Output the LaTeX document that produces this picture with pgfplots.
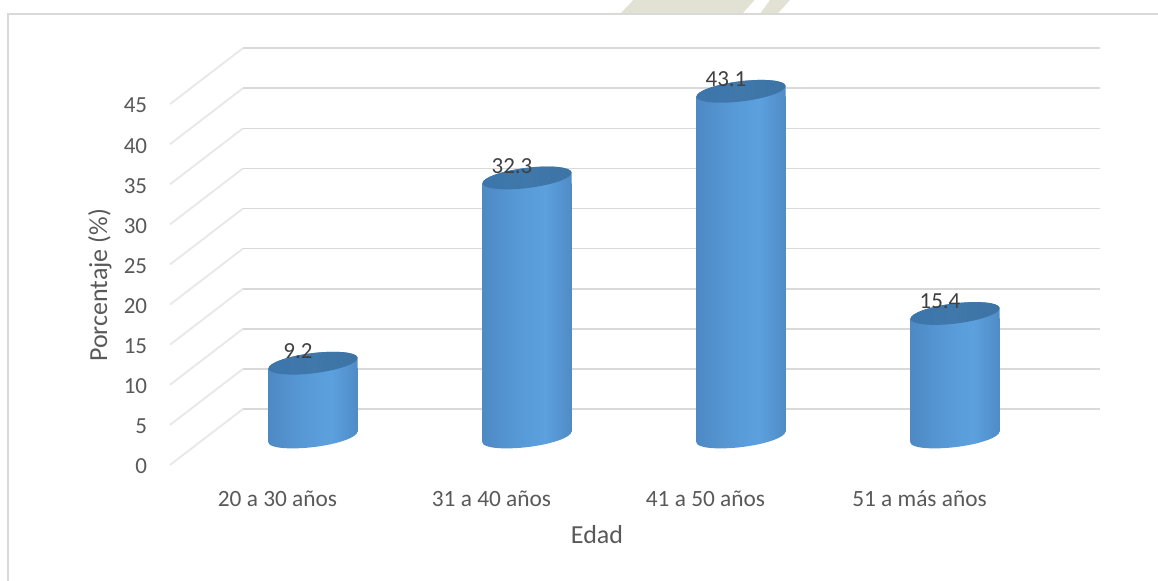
\documentclass[border=0pt]{standalone}
\usepackage{pgfplots}
\usepackage{pgfplotstable}
\usepackage{fontspec}
\pgfplotsset{compat=1.18}
\setmainfont{Carlito}

% Age distribution, percent of respondents
\pgfplotstableread{
pos value
0   9.2
1   32.3
2   43.1
3   15.4
}\edades

% Side wall of the chart box: front edge at each tick, back edge raised by the depth
\pgfplotstableread{
x y
170 0
243 6.98
nan nan
170 5
243 11.98
nan nan
170 10
243 16.98
nan nan
170 15
243 21.98
nan nan
170 20
243 26.98
nan nan
170 25
243 31.98
nan nan
170 30
243 36.98
nan nan
170 35
243 41.98
nan nan
170 40
243 46.98
nan nan
170 45
243 51.98
}\paredlateral

% Back wall gridlines
\pgfplotstableread{
x y
243 6.98
1100 6.98
nan nan
243 11.98
1100 11.98
nan nan
243 16.98
1100 16.98
nan nan
243 21.98
1100 21.98
nan nan
243 26.98
1100 26.98
nan nan
243 31.98
1100 31.98
nan nan
243 36.98
1100 36.98
nan nan
243 41.98
1100 41.98
nan nan
243 46.98
1100 46.98
nan nan
243 51.98
1100 51.98
}\paredfondo

% Cylinder body: dark edges, highlight just right of centre
\pgfdeclarehorizontalshading{cilindro}{100bp}{
  rgb(0bp)=(0.22,0.38,0.56);
  rgb(8bp)=(0.27,0.47,0.68);
  rgb(22bp)=(0.30,0.53,0.76);
  rgb(45bp)=(0.34,0.60,0.84);
  rgb(60bp)=(0.36,0.63,0.87);
  rgb(78bp)=(0.30,0.53,0.76);
  rgb(92bp)=(0.24,0.42,0.61);
  rgb(100bp)=(0.20,0.35,0.51)}
\pgfdeclarehorizontalshading{tapa}{100bp}{
  rgb(0bp)=(0.22,0.45,0.67);
  rgb(50bp)=(0.25,0.47,0.67);
  rgb(100bp)=(0.23,0.43,0.62)}

% Lower rim of a cylinder, tilted by the perspective of the box
\pgfdeclareplotmark{base cilindro}{%
  \pgfpathmoveto{\pgfqpoint{-33.4pt}{6pt}}%
  \pgfpathlineto{\pgfqpoint{-33.4pt}{-4.1pt}}%
  \pgfpathcurveto{\pgfqpoint{-33.4pt}{-8.24pt}}{\pgfqpoint{-17.55pt}{-9.76pt}}{\pgfqpoint{0.9pt}{-7.5pt}}%
  \pgfpathcurveto{\pgfqpoint{19.35pt}{-5.24pt}}{\pgfqpoint{33.4pt}{-0.04pt}}{\pgfqpoint{33.4pt}{4.1pt}}%
  \pgfpathlineto{\pgfqpoint{33.4pt}{6pt}}%
  \pgfpathclose
  \pgfshadepath{cilindro}{0}\pgfusepath{discard}}
% Strip of the body that follows the upper rim
\pgfdeclareplotmark{collar cilindro}{%
  \pgfpathmoveto{\pgfqpoint{-33.4pt}{-6pt}}%
  \pgfpathlineto{\pgfqpoint{-33.4pt}{-4.1pt}}%
  \pgfpathcurveto{\pgfqpoint{-33.4pt}{-0.04pt}}{\pgfqpoint{-19.35pt}{5.24pt}}{\pgfqpoint{-0.9pt}{7.5pt}}%
  \pgfpathcurveto{\pgfqpoint{17.55pt}{9.76pt}}{\pgfqpoint{33.4pt}{8.24pt}}{\pgfqpoint{33.4pt}{4.1pt}}%
  \pgfpathlineto{\pgfqpoint{33.4pt}{-6pt}}%
  \pgfpathclose
  \pgfshadepath{cilindro}{0}\pgfusepath{discard}}
% Top face
\pgfdeclareplotmark{tapa cilindro}{%
  \pgfpathellipse{\pgfpointorigin}{\pgfqpoint{33.4pt}{4.1pt}}{\pgfqpoint{-0.9pt}{7.5pt}}%
  \pgfshadepath{tapa}{0}\pgfusepath{discard}}

\definecolor{rejilla}{HTML}{D9D9D9}
\definecolor{lateral}{HTML}{E8E8E8}
\definecolor{marco}{HTML}{D9D9D9}
\definecolor{rotulo}{HTML}{595959}
\definecolor{dato}{HTML}{404040}
\definecolor{adorno}{HTML}{E2E2D4}

\pgfplotsset{
  % The body stops short of both rims, which carry its rounded ends
  cuerpo/.style={ybar, bar width=66.8pt, bar shift=0pt, draw=none, shading=cilindro,
    y filter/.expression={y-1.364}},
  % Marks keep their height above the plane of the cylinders
  marca/.style={only marks, y filter/.expression={y-0.682}},
}

\begin{document}
\begin{tikzpicture}
\path[use as bounding box] (0,0) rectangle (868.5pt,435.75pt);

% Faint page ornament behind the top edge
\fill[adorno] (465pt,425.25pt) -- (475pt,435.75pt) -- (566pt,435.75pt) -- (556.5pt,425.25pt) -- cycle;
\fill[adorno] (570pt,425.25pt) -- (577.5pt,435.75pt) -- (592.5pt,435.75pt) -- (583pt,425.25pt) -- cycle;

% Box walls, value axis and category names
\begin{axis}[
  at={(0,0)}, anchor=south west,
  x=0.75pt, y=6.015pt,
  xmin=0, xmax=1158, ymin=-14.464, ymax=57.98,
  axis line style={draw=none},
  major tick length=0pt,
  clip=false,
  unbounded coords=jump,
  /pgf/number format/assume math mode=true,
  ytick={0,5,...,45},
  xtick={277.5,491.5,705.5,919.5},
  xticklabels={20 a 30 años,31 a 40 años,41 a 50 años,51 a más años},
  yticklabel style={font=\fontsize{17.25}{20}\selectfont, text=rotulo, anchor=east, xshift=110.5pt, yshift=-1.2pt, inner sep=0pt},
  xticklabel style={font=\fontsize{17.5}{20}\selectfont, text=rotulo, anchor=base, yshift=56pt, inner sep=0pt},
  xlabel={Edad},
  ylabel={Porcentaje (\%)},
  every axis x label/.style={at={(axis cs:597,-9.85)}, anchor=base, font=\fontsize{19.5}{22}\selectfont, text=rotulo},
  every axis y label/.style={at={(axis cs:107,22.4)}, anchor=base, rotate=90, font=\fontsize{19.5}{22}\selectfont, text=rotulo},
]
\addplot[lateral, line width=1.4pt] table[x=x, y=y] {\paredlateral};
\addplot[rejilla, line width=1.2pt] table[x=x, y=y] {\paredfondo};
% Outer frame, open at the right and at the bottom
\addplot[marco, line width=1.2pt] coordinates {(8,-14.464) (8,56.23) (1158,56.23)};
\end{axis}

% Cylinders on the plane halfway into the box
\begin{axis}[
  at={(0,0)}, anchor=south west,
  x=160.5pt, y=6.015pt,
  xmin=-1.4626, xmax=3.9486, ymin=-18.637, ymax=53.807,
  hide axis,
  clip=false,
]
\addplot[marca, mark=base cilindro] table[x=pos, y expr=0] {\edades};
% One path per bar, so that each body carries the whole shading
\addplot[cuerpo] coordinates {(0,9.2)};
\addplot[cuerpo] coordinates {(1,32.3)};
\addplot[cuerpo] coordinates {(2,43.1)};
\addplot[cuerpo] coordinates {(3,15.4)};
\addplot[marca, mark=collar cilindro] table[x=pos, y=value] {\edades};
\addplot[marca, mark=tapa cilindro,
  point meta=explicit,
  nodes near coords,
  nodes near coords style={font=\fontsize{17.25}{20}\selectfont, text=dato, anchor=center, xshift=-11.25pt, yshift=9pt, inner sep=0pt,
    /pgf/number format/assume math mode=true, /pgf/number format/fixed, /pgf/number format/fixed zerofill, /pgf/number format/precision=1},
] table[x=pos, y=value, meta=value] {\edades};
\end{axis}
\end{tikzpicture}
\end{document}
